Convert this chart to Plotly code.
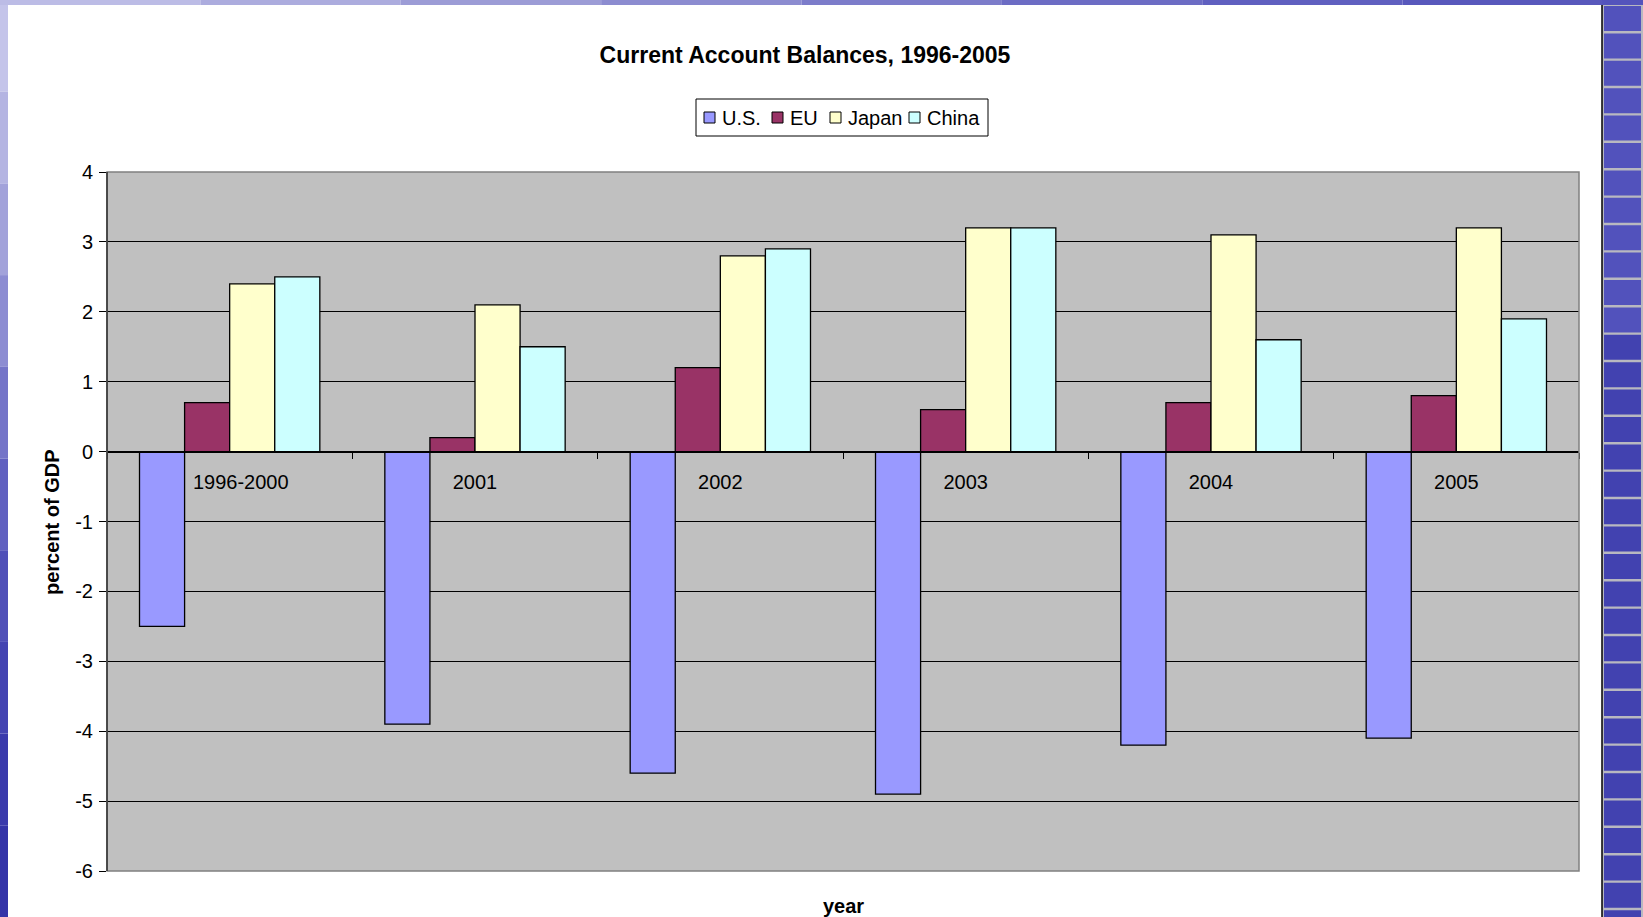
import plotly.graph_objs as go

# --- data ---
periods = ["\u00a0\u00a0\u00a0\u00a01996-2000", "2001", "2002", "2003", "2004", "2005"]
us = [-2.5, -3.9, -4.6, -4.9, -4.2, -4.1]
eu = [0.7, 0.2, 1.2, 0.6, 0.7, 0.8]
japan = [2.4, 2.1, 2.8, 3.2, 3.1, 3.2]
china = [2.5, 1.5, 2.9, 3.2, 1.6, 1.9]

y_tickvals = [4, 3, 2, 1, 0, -1, -2, -3, -4, -5, -6]
y_ticktext = ["4", "3", "2", "1", "0", "-1", "-2", "-3", "-4", "-5", "-6"]

series = [
    ("U.S.", us, "#9999FF"),
    ("EU", eu, "#993366"),
    ("Japan", japan, "#FFFFCC"),
    ("China", china, "#CCFFFF"),
]

W, H = 1643, 917
L, R, T, B = 107, 1579, 172, 871   # plot area in pixels


def px(x):
    return (x - L) / (R - L)


def py(y):
    return (B - y) / (B - T)


traces = []
for name, vals, color in series:
    traces.append(go.Bar(
        x=periods,
        y=vals,
        name=name,
        showlegend=False,
        marker=dict(color=color, line=dict(color="black", width=1.3)),
    ))

# --- slide decoration (blue border of the slide) ---
shapes = []
left_cols = ["#c4c4ea", "#b4b4e2", "#a2a2da", "#8c8cd2", "#7474c8",
             "#6060c0", "#5050b8", "#4444b2", "#3a3aac", "#3434a8"]
n = len(left_cols)
for i, c in enumerate(left_cols):
    shapes.append(dict(type="rect", xref="paper", yref="paper",
                       x0=px(0), x1=px(8), y0=py(i * H / n), y1=py((i + 1) * H / n),
                       fillcolor=c, line=dict(width=0), layer="below"))
top_cols = ["#bcbce6", "#acacde", "#9c9cd6", "#8c8cd0", "#7c7cca", "#6c6cc4", "#6060c0", "#5858bc"]
m = len(top_cols)
for i, c in enumerate(top_cols):
    shapes.append(dict(type="rect", xref="paper", yref="paper",
                       x0=px(i * 1603 / m), x1=px((i + 1) * 1603 / m), y0=py(0), y1=py(5),
                       fillcolor=c, line=dict(width=0), layer="below"))
# right tile strip
shapes.append(dict(type="rect", xref="paper", yref="paper",
                   x0=px(1602), x1=px(W), y0=py(0), y1=py(H),
                   fillcolor="#b8b8c0", line=dict(width=0), layer="below"))
shapes.append(dict(type="line", xref="paper", yref="paper",
                   x0=px(1602), x1=px(1602), y0=py(5), y1=py(H),
                   line=dict(color="black", width=1.5), layer="below"))
shapes.append(dict(type="rect", xref="paper", yref="paper",
                   x0=px(1602), x1=px(W), y0=py(0), y1=py(5),
                   fillcolor="#5454bc", line=dict(width=0), layer="below"))
y0 = 6
k = 0
while y0 < H:
    c = "#5252bc" if k < 12 else "#4242b0"
    shapes.append(dict(type="rect", xref="paper", yref="paper",
                       x0=px(1604), x1=px(1641), y0=py(y0), y1=py(min(y0 + 25, H)),
                       fillcolor=c, line=dict(width=0), layer="below"))
    y0 += 27.4
    k += 1

# plot border
shapes.append(dict(type="rect", xref="paper", yref="paper", x0=0, x1=1, y0=0, y1=1,
                   line=dict(color="#808080", width=1.5), layer="above"))
shapes.append(dict(type="line", xref="paper", yref="paper", x0=0, x1=0, y0=0, y1=1,
                   line=dict(color="#303030", width=1.5), layer="above"))

annotations = [
    dict(text="<b>percent of GDP</b>", xref="paper", yref="paper", x=px(52), y=py(522),
         xanchor="center", yanchor="middle",
         textangle=-90, showarrow=False, font=dict(size=20, color="black")),
    dict(text="<b>year</b>", xref="paper", yref="paper", x=px(843), y=py(906),
         xanchor="center", yanchor="middle",
         showarrow=False, font=dict(size=20, color="black")),
]

# --- legend box, drawn by hand to get the compact Excel look ---
shapes.append(dict(type="rect", xref="paper", yref="paper",
                   x0=px(696), x1=px(988), y0=py(99), y1=py(136),
                   fillcolor="white", line=dict(color="black", width=1)))
legend_x = [704, 772, 830, 909]
for (name, vals, color), lx in zip(series, legend_x):
    shapes.append(dict(type="rect", xref="paper", yref="paper",
                       x0=px(lx), x1=px(lx + 11), y0=py(112), y1=py(123),
                       fillcolor=color, line=dict(color="black", width=1)))
    annotations.append(dict(text=name, xref="paper", yref="paper",
                            x=px(lx + 16), y=py(117.5), xanchor="left", yanchor="middle",
                            showarrow=False, font=dict(size=20, color="black")))

layout = go.Layout(
    width=W,
    height=H,
    title=dict(text="<b>Current Account Balances, 1996-2005</b>", x=px(805), xref="paper",
               y=1 - 55 / H, yref="container", xanchor="center", yanchor="middle",
               font=dict(size=23, color="black")),
    font=dict(family="Liberation Sans, Arial, sans-serif", color="black", size=19),
    paper_bgcolor="white",
    plot_bgcolor="#C0C0C0",
    barmode="group",
    bargap=0.265,
    bargroupgap=0,
    showlegend=False,
    xaxis=dict(
        type="category",
        anchor="free",
        position=0.6,
        showline=True,
        linecolor="black",
        linewidth=1.3,
        ticks="outside",
        tickson="boundaries",
        ticklen=6,
        tickcolor="black",
        showgrid=False,
        ticklabelstandoff=12,
        tickfont=dict(size=20),
    ),
    yaxis=dict(
        range=[-6, 4],
        tickvals=y_tickvals,
        ticktext=y_ticktext,
        showgrid=True,
        gridcolor="black",
        gridwidth=1,
        zeroline=True,
        zerolinecolor="black",
        zerolinewidth=1.3,
        ticks="outside",
        ticklen=7,
        tickcolor="black",
        ticklabelstandoff=2,
        tickfont=dict(size=20),
    ),
    margin=dict(l=L, r=W - R, t=T, b=H - B),
    shapes=shapes,
    annotations=annotations,
)

fig = go.Figure(data=traces, layout=layout)
fig.write_html("out.html", config={"displayModeBar": False},
               post_script="document.body.style.margin='0px';")
